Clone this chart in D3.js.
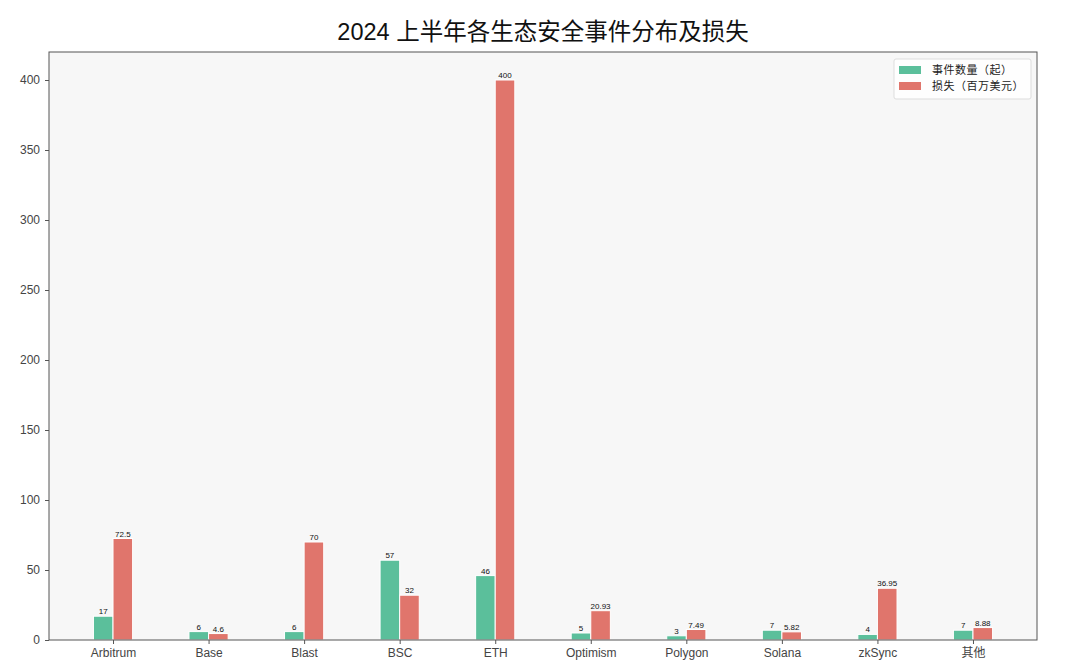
<!DOCTYPE html>
<html>
<head>
<meta charset="utf-8">
<script src="https://cdn.jsdelivr.net/npm/d3@7"></script>
<style>
  body { margin: 0; background: #fff; }
  svg { font-family: "Liberation Sans", "Noto Sans CJK SC", sans-serif; }
</style>
</head>
<body>
<div id="chart"></div>
<script>
const chains = ['Arbitrum', 'Base', 'Blast', 'BSC', 'ETH', 'Optimism', 'Polygon', 'Solana', 'zkSync', '其他'];
const incidents = [17, 6, 6, 57, 46, 5, 3, 7, 4, 7];
const losses = [72.5, 4.6, 70, 32, 400, 20.93, 7.49, 5.82, 36.95, 8.88];
const yTicks = [0, 50, 100, 150, 200, 250, 300, 350, 400];
const seriesNames = ['事件数量（起）', '损失（百万美元）'];
const colors = ['#5bbf9b', '#e0756c'];

const width = 1080, height = 670;
const margin = { left: 49, right: 43, top: 52, bottom: 30 };
const barW = 0.205;

const svg = d3.select('#chart').append('svg')
  .attr('width', width).attr('height', height);

// index-based x scale, like matplotlib with 5% margins
const x = d3.scaleLinear()
  .domain([-0.67, chains.length - 1 + 0.67])
  .range([margin.left, width - margin.right]);
const y = d3.scaleLinear()
  .domain([0, 420])
  .range([height - margin.bottom, margin.top]);

// plot background
svg.append('rect')
  .attr('x', margin.left).attr('y', margin.top)
  .attr('width', width - margin.left - margin.right)
  .attr('height', height - margin.top - margin.bottom)
  .attr('fill', '#f7f7f7');

// title
svg.append('text')
  .attr('x', (margin.left + width - margin.right) / 2)
  .attr('y', 40)
  .attr('text-anchor', 'middle')
  .style('font-size', '23.5px')
  .style('font-family', '"Liberation Sans", "Noto Sans CJK SC", sans-serif')
  .attr('fill', '#111')
  .text('2024 上半年各生态安全事件分布及损失');

const series = [incidents, losses];
series.forEach((vals, s) => {
  const off = s === 0 ? -barW / 2 : barW / 2;
  const g = svg.append('g');
  g.selectAll('rect').data(vals).join('rect')
    .attr('x', (d, i) => x(i + off - barW / 2))
    .attr('width', x(barW) - x(0))
    .attr('y', d => y(d))
    .attr('height', d => y(0) - y(d))
    .attr('fill', colors[s])
    .attr('stroke', '#fff')
    .attr('stroke-width', 1);
  g.selectAll('text').data(vals).join('text')
    .attr('x', (d, i) => x(i + off))
    .attr('y', d => y(d) - 2)
    .attr('text-anchor', 'middle')
    .style('font-size', '8px')
    .attr('fill', '#111')
    .text(d => d);
});

// axes
const xAxis = d3.axisBottom(x)
  .tickValues(d3.range(chains.length))
  .tickFormat(i => chains[i])
  .tickSize(4).tickPadding(4);
const yAxis = d3.axisLeft(y)
  .tickValues(yTicks)
  .tickSize(4).tickPadding(5);

const gx = svg.append('g')
  .attr('transform', `translate(0,${height - margin.bottom})`)
  .call(xAxis);
const gy = svg.append('g')
  .attr('transform', `translate(${margin.left},0)`)
  .call(yAxis);

[gx, gy].forEach(g => {
  g.select('.domain').remove();
  g.selectAll('.tick line').attr('stroke', '#555');
  g.selectAll('.tick text')
    .attr('fill', '#444')
    .style('font-size', '12px')
    .style('font-family', '"Liberation Sans", "Noto Sans CJK SC", sans-serif');
});

// frame
svg.append('rect')
  .attr('x', margin.left).attr('y', margin.top)
  .attr('width', width - margin.left - margin.right)
  .attr('height', height - margin.top - margin.bottom)
  .attr('fill', 'none')
  .attr('stroke', '#555')
  .attr('stroke-width', 1);

// legend
const legend = svg.append('g').attr('transform', 'translate(894,59)');
legend.append('rect')
  .attr('width', 137).attr('height', 40).attr('rx', 2)
  .attr('fill', '#fff').attr('fill-opacity', 0.85)
  .attr('stroke', '#ddd');
seriesNames.forEach((name, i) => {
  legend.append('rect')
    .attr('x', 5).attr('y', 7 + i * 16)
    .attr('width', 22).attr('height', 8)
    .attr('fill', colors[i]);
  legend.append('text')
    .attr('x', 38).attr('y', 15 + i * 16)
    .style('font-size', '11px')
    .style('letter-spacing', '0.5px')
    .style('font-family', '"Noto Sans CJK SC", sans-serif')
    .attr('fill', '#222')
    .text(name);
});
</script>
</body>
</html>
